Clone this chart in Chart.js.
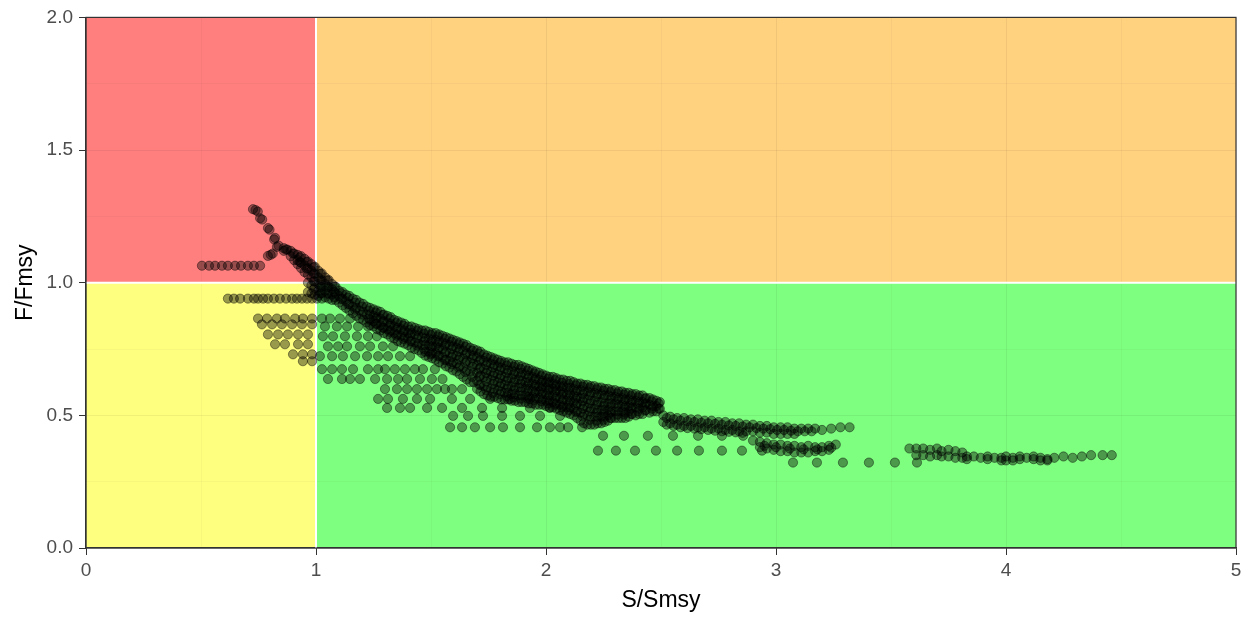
<!DOCTYPE html>
<html>
<head>
<meta charset="utf-8">
<script src="https://cdn.jsdelivr.net/npm/chart.js@4.4.1/dist/chart.umd.min.js"></script>
<style>
  body { margin: 0; background: #fff; }
  #wrap { width: 1247px; height: 619px; }
</style>
</head>
<body>
<div id="wrap"><canvas id="kobe" width="1247" height="619"></canvas></div>
<script>
// ── Data ──────────────────────────────────────────────────────
const xTickLabels = ['0', '1', '2', '3', '4', '5'];
const yTickLabels = ['0.0', '0.5', '1.0', '1.5', '2.0'];

// rows of single points: [F/Fmsy, [S/Smsy...]]
const redRows = [
  [1.064, [0.504, 0.535, 0.561, 0.591, 0.617, 0.648, 0.674, 0.704, 0.730, 0.757]]
];

const yellowRows = [
  [0.940, [0.617, 0.643, 0.670, 0.704, 0.730, 0.748, 0.770, 0.791, 0.817, 0.843, 0.870, 0.896, 0.917, 0.939, 0.961, 0.983, 1.004, 1.026]],
  [0.865, [0.748, 0.787, 0.830, 0.865, 0.909, 0.943, 0.983]],
  [0.843, [0.765, 0.809, 0.852, 0.896, 0.939, 0.983]],
  [0.805, [0.791, 0.835, 0.878, 0.922, 0.965]],
  [0.768, [0.822, 0.865, 0.922, 0.965]],
  [0.730, [0.900, 0.943, 0.983]],
  [0.704, [0.943, 0.983]]
];

const greenRows = [
  [0.865, [1.026, 1.061, 1.104, 1.148]],
  [0.835, [1.039, 1.091, 1.135, 1.183, 1.226]],
  [0.798, [1.030, 1.074, 1.126, 1.178, 1.226, 1.265]],
  [0.760, [1.052, 1.096, 1.135, 1.191, 1.235, 1.291, 1.335]],
  [0.723, [1.017, 1.070, 1.117, 1.170, 1.222, 1.270, 1.313, 1.365, 1.409]],
  [0.674, [1.026, 1.070, 1.113, 1.161, 1.226, 1.270, 1.300, 1.343, 1.387, 1.430, 1.465, 1.517]],
  [0.637, [1.052, 1.113, 1.148, 1.191, 1.257, 1.309, 1.357, 1.396, 1.452, 1.504, 1.550]],
  [0.599, [1.300, 1.352, 1.396, 1.439, 1.483, 1.526, 1.561, 1.591, 1.635]],
  [0.562, [1.270, 1.313, 1.378, 1.439, 1.496, 1.591, 1.670, 1.757, 1.843, 1.930]],
  [0.528, [1.309, 1.365, 1.409, 1.483, 1.548, 1.635, 1.722, 1.809, 1.930, 2.017]],
  [0.498, [1.596, 1.661, 1.726, 1.809, 1.887, 1.974, 2.061]],
  [0.455, [1.583, 1.635, 1.691, 1.757, 1.813, 1.887, 1.961, 2.017, 2.061, 2.096, 2.157]],
  [0.423, [2.248, 2.339, 2.443, 2.552, 2.661, 2.765, 2.857]],
  [0.367, [2.226, 2.304, 2.387, 2.478, 2.570, 2.665, 2.765, 2.852, 2.939]],
  [0.322, [3.074, 3.178, 3.291, 3.404, 3.517, 3.613]]
];

// upper chain in the red zone: [S/Smsy, F/Fmsy]
const chainPts = [
  [0.726, 1.277], [0.737, 1.274], [0.747, 1.268], [0.757, 1.243], [0.766, 1.238],
  [0.791, 1.206], [0.798, 1.200], [0.822, 1.169], [0.818, 1.163], [0.830, 1.135],
  [0.837, 1.140], [0.791, 1.101], [0.803, 1.105], [0.812, 1.110]
];

// dense band columns: [S/Smsy, [F/Fmsy...]]
const bandCols = [
  [0.86, [1.13, 1.12]], [0.89, [1.12, 1.10]], [0.92, [1.105, 1.085, 1.07]],
  [0.95, [1.09, 1.065, 1.04]], [0.98, [1.07, 1.045, 1.02, 0.99, 0.96]],
  [1.01, [1.045, 1.02, 0.995, 0.97, 0.95]], [1.04, [1.02, 0.995, 0.97, 0.945]],
  [1.07, [0.995, 0.975, 0.955, 0.935]], [1.10, [0.97, 0.95, 0.925]],
  [1.13, [0.955, 0.93, 0.905]], [1.16, [0.94, 0.91, 0.885]], [1.19, [0.925, 0.895, 0.865]],
  [1.22, [0.91, 0.88, 0.85]], [1.25, [0.90, 0.875, 0.855, 0.835]],
  [1.28, [0.89, 0.865, 0.84, 0.82]], [1.31, [0.875, 0.85, 0.825, 0.805]],
  [1.34, [0.86, 0.835, 0.81, 0.79]], [1.37, [0.85, 0.825, 0.80, 0.775]],
  [1.40, [0.835, 0.81, 0.79, 0.765]], [1.43, [0.83, 0.805, 0.775, 0.75]],
  [1.46, [0.82, 0.795, 0.765, 0.735]], [1.49, [0.815, 0.79, 0.765, 0.74, 0.72]],
  [1.52, [0.81, 0.785, 0.76, 0.735, 0.71]], [1.55, [0.80, 0.775, 0.75, 0.72, 0.695]],
  [1.58, [0.79, 0.765, 0.735, 0.705, 0.68]], [1.61, [0.78, 0.755, 0.725, 0.695, 0.665]],
  [1.64, [0.77, 0.745, 0.715, 0.68, 0.645]], [1.67, [0.755, 0.73, 0.70, 0.665, 0.625]],
  [1.70, [0.745, 0.72, 0.69, 0.66, 0.63, 0.60]], [1.73, [0.73, 0.705, 0.675, 0.645, 0.61, 0.58]],
  [1.76, [0.72, 0.695, 0.665, 0.635, 0.60, 0.57]], [1.79, [0.71, 0.685, 0.655, 0.625, 0.595, 0.565]],
  [1.82, [0.70, 0.675, 0.645, 0.615, 0.585, 0.56]], [1.85, [0.695, 0.67, 0.64, 0.61, 0.58, 0.555]],
  [1.88, [0.69, 0.66, 0.635, 0.605, 0.575, 0.55]], [1.91, [0.68, 0.655, 0.625, 0.60, 0.575, 0.55]],
  [1.94, [0.67, 0.645, 0.62, 0.595, 0.57, 0.545]], [1.97, [0.66, 0.635, 0.61, 0.59, 0.565, 0.54]],
  [2.00, [0.65, 0.625, 0.605, 0.58, 0.555, 0.535]], [2.03, [0.645, 0.62, 0.60, 0.575, 0.55, 0.53]],
  [2.06, [0.635, 0.61, 0.59, 0.565, 0.54, 0.52]], [2.09, [0.63, 0.605, 0.58, 0.555, 0.53, 0.51]],
  [2.12, [0.625, 0.60, 0.575, 0.55, 0.525, 0.50]], [2.15, [0.62, 0.595, 0.565, 0.54, 0.51, 0.48]],
  [2.18, [0.615, 0.59, 0.56, 0.53, 0.50, 0.465]], [2.21, [0.61, 0.585, 0.555, 0.525, 0.495, 0.465]],
  [2.24, [0.605, 0.58, 0.55, 0.52, 0.495, 0.47]], [2.27, [0.60, 0.575, 0.545, 0.52, 0.50, 0.48]],
  [2.30, [0.595, 0.57, 0.545, 0.515, 0.49]], [2.33, [0.59, 0.565, 0.54, 0.515, 0.49]],
  [2.36, [0.585, 0.56, 0.535, 0.515, 0.495]], [2.39, [0.58, 0.555, 0.53, 0.50]],
  [2.42, [0.575, 0.55, 0.53, 0.505]], [2.45, [0.565, 0.54, 0.51]], [2.48, [0.555, 0.535, 0.515]]
];

const bandColsB = [
  [0.875, [1.125]], [0.905, [1.11, 1.085]], [0.935, [1.10, 1.075, 1.055]],
  [0.965, [1.08, 1.055, 1.03, 1.00, 0.965]], [0.995, [1.06, 1.035, 1.005, 0.98, 0.955]],
  [1.025, [1.035, 1.01, 0.985, 0.96]], [1.055, [1.01, 0.985, 0.96, 0.94]],
  [1.085, [0.985, 0.96, 0.935]], [1.115, [0.965, 0.94, 0.915]], [1.145, [0.95, 0.92, 0.895]],
  [1.175, [0.935, 0.905, 0.875]], [1.205, [0.92, 0.89, 0.86]],
  [1.235, [0.905, 0.88, 0.86, 0.84]], [1.265, [0.895, 0.87, 0.845, 0.825]],
  [1.295, [0.88, 0.855, 0.83, 0.81]], [1.325, [0.87, 0.845, 0.82, 0.795]],
  [1.355, [0.855, 0.83, 0.805, 0.78]], [1.385, [0.845, 0.82, 0.795, 0.77]],
  [1.415, [0.835, 0.81, 0.78, 0.755]], [1.445, [0.825, 0.80, 0.77, 0.745]],
  [1.475, [0.82, 0.79, 0.765, 0.74, 0.725]], [1.505, [0.81, 0.785, 0.76, 0.735, 0.715]],
  [1.535, [0.805, 0.78, 0.755, 0.725, 0.70]], [1.565, [0.795, 0.77, 0.74, 0.71, 0.685]],
  [1.595, [0.785, 0.76, 0.73, 0.70, 0.67]], [1.625, [0.775, 0.75, 0.72, 0.685, 0.655]],
  [1.655, [0.765, 0.735, 0.705, 0.67, 0.635]], [1.685, [0.75, 0.725, 0.695, 0.66, 0.625]],
  [1.715, [0.74, 0.71, 0.68, 0.65, 0.615, 0.59]], [1.745, [0.725, 0.70, 0.67, 0.64, 0.605, 0.575]],
  [1.775, [0.715, 0.69, 0.66, 0.63, 0.60, 0.57]], [1.805, [0.705, 0.68, 0.65, 0.62, 0.59, 0.56]],
  [1.835, [0.70, 0.67, 0.64, 0.61, 0.585, 0.56]], [1.865, [0.69, 0.665, 0.635, 0.605, 0.58, 0.555]],
  [1.895, [0.685, 0.66, 0.63, 0.605, 0.575, 0.55]], [1.925, [0.675, 0.65, 0.625, 0.60, 0.57, 0.545]],
  [1.955, [0.665, 0.64, 0.615, 0.59, 0.565, 0.54]], [1.985, [0.655, 0.63, 0.61, 0.585, 0.56, 0.54]],
  [2.015, [0.645, 0.625, 0.60, 0.575, 0.555, 0.53]], [2.045, [0.64, 0.615, 0.595, 0.57, 0.545, 0.525]],
  [2.075, [0.635, 0.61, 0.585, 0.56, 0.535, 0.515]], [2.105, [0.63, 0.605, 0.58, 0.555, 0.53, 0.505]],
  [2.135, [0.62, 0.595, 0.57, 0.545, 0.515, 0.49]], [2.165, [0.615, 0.59, 0.565, 0.535, 0.505, 0.47]],
  [2.195, [0.61, 0.585, 0.555, 0.525, 0.495, 0.465]], [2.225, [0.605, 0.58, 0.55, 0.52, 0.495, 0.47]],
  [2.255, [0.60, 0.575, 0.545, 0.52, 0.495, 0.475]], [2.285, [0.595, 0.57, 0.545, 0.515, 0.49]],
  [2.315, [0.59, 0.565, 0.54, 0.515, 0.49]], [2.345, [0.585, 0.56, 0.535, 0.51, 0.49]],
  [2.375, [0.58, 0.555, 0.53, 0.505]], [2.405, [0.575, 0.55, 0.525, 0.505]],
  [2.435, [0.565, 0.545, 0.52]], [2.465, [0.56, 0.535, 0.515]], [2.495, [0.55, 0.525]]
];

const bandColsC = [
  [0.87, [1.125]], [0.90, [1.11]], [0.93, [1.095, 1.078]], [0.96, [1.078, 1.053]],
  [0.99, [1.058, 1.033, 1.005, 0.975]], [1.02, [1.033, 1.008, 0.983, 0.96]],
  [1.05, [1.008, 0.983, 0.958]], [1.08, [0.985, 0.965, 0.945]], [1.11, [0.96, 0.938]],
  [1.14, [0.943, 0.918]], [1.17, [0.925, 0.898]], [1.20, [0.91, 0.88]], [1.23, [0.895, 0.865]],
  [1.26, [0.888, 0.865, 0.845]], [1.29, [0.878, 0.853, 0.83]], [1.32, [0.863, 0.838, 0.815]],
  [1.35, [0.848, 0.823, 0.80]], [1.38, [0.838, 0.813, 0.788]], [1.41, [0.823, 0.80, 0.778]],
  [1.44, [0.818, 0.79, 0.763]], [1.47, [0.808, 0.78, 0.75]], [1.50, [0.803, 0.778, 0.753, 0.73]],
  [1.53, [0.798, 0.773, 0.748, 0.723]], [1.56, [0.788, 0.763, 0.735, 0.708]],
  [1.59, [0.778, 0.75, 0.72, 0.693]], [1.62, [0.768, 0.74, 0.71, 0.68]],
  [1.65, [0.758, 0.73, 0.698, 0.663]], [1.68, [0.743, 0.715, 0.683, 0.645]],
  [1.71, [0.733, 0.705, 0.675, 0.645, 0.615]], [1.74, [0.718, 0.69, 0.66, 0.628, 0.595]],
  [1.77, [0.708, 0.68, 0.65, 0.618, 0.585]], [1.80, [0.698, 0.67, 0.64, 0.61, 0.58]],
  [1.83, [0.688, 0.66, 0.63, 0.60, 0.573]], [1.86, [0.683, 0.655, 0.625, 0.595, 0.568]],
  [1.89, [0.675, 0.648, 0.62, 0.59, 0.563]], [1.92, [0.668, 0.64, 0.613, 0.588, 0.563]],
  [1.95, [0.658, 0.633, 0.608, 0.583, 0.558]], [1.98, [0.648, 0.623, 0.60, 0.578, 0.553]],
  [2.01, [0.638, 0.615, 0.593, 0.568, 0.545]], [2.04, [0.633, 0.61, 0.588, 0.563, 0.54]],
  [2.07, [0.623, 0.60, 0.578, 0.553, 0.53]], [2.10, [0.618, 0.593, 0.568, 0.543, 0.52]],
  [2.13, [0.613, 0.588, 0.563, 0.538, 0.513]], [2.16, [0.608, 0.58, 0.553, 0.525, 0.495]],
  [2.19, [0.603, 0.575, 0.545, 0.515, 0.483]], [2.22, [0.598, 0.57, 0.54, 0.51, 0.48]],
  [2.25, [0.593, 0.565, 0.535, 0.508, 0.483]], [2.28, [0.588, 0.56, 0.533, 0.51, 0.49]],
  [2.31, [0.583, 0.558, 0.53, 0.503]], [2.34, [0.578, 0.553, 0.528, 0.503]],
  [2.37, [0.573, 0.548, 0.525, 0.505]], [2.40, [0.568, 0.543, 0.515]],
  [2.43, [0.563, 0.54, 0.518]], [2.46, [0.553, 0.525]], [2.49, [0.545, 0.525]]
];

const midCols = [
  [2.51, [0.50, 0.475]], [2.54, [0.495, 0.47]], [2.57, [0.49, 0.465]], [2.60, [0.49, 0.46]],
  [2.63, [0.485, 0.46]], [2.66, [0.485, 0.455]], [2.69, [0.48, 0.455]], [2.72, [0.48, 0.45]],
  [2.75, [0.475, 0.45]], [2.78, [0.475, 0.445]], [2.81, [0.47, 0.445]], [2.84, [0.47, 0.44]],
  [2.87, [0.465, 0.44]], [2.90, [0.465, 0.44]], [2.93, [0.46, 0.435]], [2.96, [0.46, 0.435]],
  [2.99, [0.455, 0.43]], [3.02, [0.455, 0.43]], [3.05, [0.455, 0.43]], [3.08, [0.45, 0.43]],
  [3.11, [0.45]], [3.14, [0.45]], [3.17, [0.45]], [3.20, [0.445]], [3.24, [0.45]],
  [3.28, [0.455]], [3.32, [0.455]]
];

const midColsB = [
  [2.525, [0.49, 0.465]], [2.555, [0.485, 0.46]], [2.585, [0.48, 0.455]], [2.615, [0.478, 0.452]],
  [2.645, [0.475, 0.45]], [2.675, [0.472, 0.448]], [2.705, [0.47, 0.445]], [2.735, [0.468, 0.442]],
  [2.765, [0.465, 0.44]], [2.795, [0.462, 0.438]], [2.825, [0.46, 0.436]], [2.855, [0.458, 0.434]],
  [2.885, [0.455]], [2.915, [0.452]], [2.945, [0.45]], [2.975, [0.448]], [3.005, [0.445]],
  [3.035, [0.445]], [3.065, [0.442]], [3.095, [0.44]], [3.125, [0.44]], [3.155, [0.44]]
];

const lowCluster = [
  [2.90, [0.405]], [2.93, [0.40, 0.38]], [2.96, [0.395, 0.375]], [2.99, [0.39, 0.37]],
  [3.02, [0.39, 0.365]], [3.05, [0.385, 0.365]], [3.08, [0.385, 0.36]], [3.11, [0.38, 0.36]],
  [3.14, [0.385, 0.36]], [3.17, [0.38, 0.365]], [3.20, [0.38, 0.365]], [3.23, [0.385, 0.37]],
  [3.26, [0.39]], [2.95, [0.385]], [3.00, [0.38]], [3.06, [0.375]], [3.12, [0.372]],
  [3.18, [0.372]], [3.24, [0.378]]
];

const tailCols = [
  [3.58, [0.375]], [3.61, [0.375, 0.35]], [3.64, [0.375, 0.35]], [3.67, [0.37, 0.345]],
  [3.70, [0.375, 0.35]], [3.72, [0.365, 0.345]], [3.75, [0.37, 0.345]], [3.78, [0.365, 0.34]],
  [3.81, [0.36, 0.34]], [3.83, [0.345, 0.335]], [3.86, [0.345]], [3.89, [0.34]],
  [3.92, [0.345, 0.335]], [3.95, [0.34]], [3.98, [0.34, 0.33]], [4.00, [0.345, 0.33]],
  [4.03, [0.34, 0.33]], [4.06, [0.345, 0.335]], [4.09, [0.34]], [4.12, [0.345, 0.335]],
  [4.15, [0.34, 0.33]], [4.18, [0.335, 0.33]], [4.21, [0.34]], [4.25, [0.345]],
  [4.29, [0.34]], [4.33, [0.345]], [4.37, [0.35]], [4.42, [0.35]], [4.46, [0.35]]
];

// ── Zones ──────────────────────────────────────────────────────
const zones = [
  { x0: 0, x1: 1, y0: 1, y1: 2, color: '#ff7f7f' },
  { x0: 1, x1: 5, y0: 1, y1: 2, color: '#ffd27f' },
  { x0: 0, x1: 1, y0: 0, y1: 1, color: '#ffff7f' },
  { x0: 1, x1: 5, y0: 0, y1: 1, color: '#7fff7f' }
];

// ── Build points ───────────────────────────────────────────────
const fromRows = rows => rows.flatMap(([y, xs]) => xs.map(x => ({ x, y })));
const fromCols = cols => cols.flatMap(([x, ys]) => ys.map(y => ({ x, y })));

const points = [].concat(
  fromRows(redRows), fromRows(yellowRows), fromRows(greenRows),
  chainPts.map(([x, y]) => ({ x, y })),
  fromCols(bandCols), fromCols(bandColsB), fromCols(bandColsC),
  fromCols(midCols), fromCols(midColsB),
  fromCols(lowCluster), fromCols(tailCols)
);

// ── Plugins ────────────────────────────────────────────────────
const kobeZones = {
  id: 'kobeZones',
  beforeDraw(chart) {
    const { ctx, scales: { x, y } } = chart;
    ctx.save();
    zones.forEach(z => {
      const l = x.getPixelForValue(z.x0), r = x.getPixelForValue(z.x1);
      const t = y.getPixelForValue(z.y1), b = y.getPixelForValue(z.y0);
      ctx.fillStyle = z.color;
      ctx.fillRect(l, t, r - l, b - t);
    });
    ctx.restore();
  },
  beforeDatasetsDraw(chart) {
    const { ctx, chartArea: a, scales: { x, y } } = chart;
    const px = x.getPixelForValue(1), py = y.getPixelForValue(1);
    ctx.save();
    ctx.strokeStyle = '#ffffff';
    ctx.lineWidth = 2;
    ctx.beginPath();
    ctx.moveTo(px, a.top); ctx.lineTo(px, a.bottom);
    ctx.moveTo(a.left, py); ctx.lineTo(a.right, py);
    ctx.stroke();
    ctx.restore();
  },
  afterDatasetsDraw(chart) {
    const { ctx, chartArea: a } = chart;
    ctx.save();
    ctx.strokeStyle = '#333333';
    ctx.lineWidth = 1.2;
    ctx.strokeRect(a.left, a.top, a.right - a.left, a.bottom - a.top);
    ctx.restore();
  }
};

// ── Chart ──────────────────────────────────────────────────────
const isMajor = (v, step) => Math.abs(v / step - Math.round(v / step)) < 1e-6;
const tickFont = { family: 'Liberation Sans, Arial, sans-serif', size: 19 };
const titleFont = { family: 'Liberation Sans, Arial, sans-serif', size: 23 };

new Chart(document.getElementById('kobe'), {
  type: 'scatter',
  data: {
    datasets: [{
      data: points,
      pointRadius: 4.6,
      pointBorderWidth: 1,
      pointBackgroundColor: 'rgba(0,0,0,0.4)',
      pointBorderColor: 'rgba(0,0,0,0.42)',
      pointHoverRadius: 4.6
    }]
  },
  options: {
    responsive: false,
    animation: false,
    events: [],
    layout: { padding: { left: 0, right: 11, top: 14, bottom: 0 } },
    plugins: { legend: { display: false }, tooltip: { enabled: false } },
    scales: {
      x: {
        type: 'linear', min: 0, max: 5,
        afterFit: s => { s.height = 71; },
        ticks: {
          stepSize: 0.5, autoSkip: false, maxRotation: 0, padding: 4,
          color: '#4d4d4d', font: tickFont,
          callback: v => isMajor(v, 1) ? xTickLabels[Math.round(v)] : ''
        },
        grid: {
          color: c => isMajor(c.tick.value, 1) ? 'rgba(0,0,0,0.06)' : 'rgba(0,0,0,0.03)',
          tickColor: c => isMajor(c.tick.value, 1) ? '#333333' : 'rgba(0,0,0,0)',
          tickLength: 7
        },
        border: { color: '#333333', width: 1.2 },
        title: { display: true, text: 'S/Smsy', color: '#000', font: titleFont, padding: { top: 0, bottom: 5 } }
      },
      y: {
        type: 'linear', min: 0, max: 2,
        afterFit: s => { s.width = 86; },
        ticks: {
          stepSize: 0.25, autoSkip: false, padding: 6,
          color: '#4d4d4d', font: tickFont,
          callback: v => isMajor(v, 0.5) ? yTickLabels[Math.round(v * 2)] : ''
        },
        grid: {
          color: c => isMajor(c.tick.value, 0.5) ? 'rgba(0,0,0,0.06)' : 'rgba(0,0,0,0.03)',
          tickColor: c => isMajor(c.tick.value, 0.5) ? '#333333' : 'rgba(0,0,0,0)',
          tickLength: 7
        },
        border: { color: '#333333', width: 1.2 },
        title: { display: true, text: 'F/Fmsy', color: '#000', font: titleFont, padding: { top: 12, bottom: 0 } }
      }
    }
  },
  plugins: [kobeZones]
});
</script>
</body>
</html>
